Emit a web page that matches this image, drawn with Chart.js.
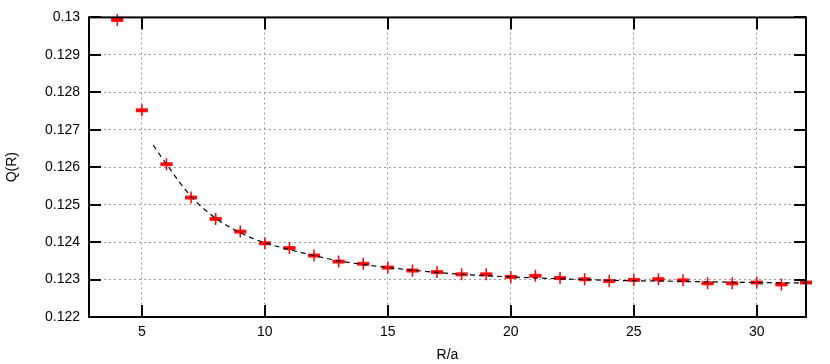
<!DOCTYPE html>
<html>
<head>
<meta charset="utf-8">
<script src="https://cdn.jsdelivr.net/npm/chart.js@4.4.1/dist/chart.umd.min.js"></script>
<style>
  html, body { margin: 0; padding: 0; background: #fff; }
  #c { display: block; }
</style>
</head>
<body>
<canvas id="c" width="830" height="364"></canvas>
<script>
// measured points Q(R) vs R/a
const rVals = [4, 5, 6, 7, 8, 9, 10, 11, 12, 13, 14, 15, 16, 17, 18, 19, 20, 21, 22, 23, 24, 25, 26, 27, 28, 29, 30, 31, 32];
const qVals = [0.12993, 0.12752, 0.12608, 0.12519, 0.12462, 0.12428, 0.12397, 0.12384, 0.12364, 0.12348,
               0.12342, 0.12332, 0.12324, 0.12320, 0.12314, 0.12314, 0.12307, 0.12310, 0.12304, 0.12301,
               0.12296, 0.12299, 0.12301, 0.12298, 0.12290, 0.12290, 0.12292, 0.12287, 0.12292];

// fitted curve
const fitR = [5.46, 6, 7, 8, 9, 10, 11, 12, 13, 14, 15, 16, 17, 18, 20, 22, 24, 26, 28, 30, 32];
const fitQ = [0.12659, 0.12608, 0.12522, 0.12464, 0.12425, 0.12398, 0.12380, 0.12364, 0.12350, 0.12340,
              0.12332, 0.12325, 0.12319, 0.12314, 0.12307, 0.12302, 0.12298, 0.12296, 0.12294, 0.12292, 0.12291];

const xTicks = [5, 10, 15, 20, 25, 30];
const yTicks = [0.122, 0.123, 0.124, 0.125, 0.126, 0.127, 0.128, 0.129, 0.13];

const xMin = 2.85, xMax = 32;
const yMin = 0.122, yMax = 0.13;

const font = { family: "'Liberation Sans', Arial, sans-serif", size: 14 };

function pts(xs, ys) {
    return xs.map((x, i) => ({ x: x, y: ys[i] }));
}

// gnuplot style frame with inward ticks on all four sides
const framePlugin = {
    id: 'frame',
    afterDatasetsDraw(chart) {
        const ctx = chart.ctx;
        const a = chart.chartArea;
        const xs = chart.scales.x, ys = chart.scales.y;
        const len = 12;
        ctx.save();
        ctx.strokeStyle = '#000';
        ctx.lineWidth = 2;
        ctx.beginPath();
        xTicks.forEach(v => {
            const px = Math.round(xs.getPixelForValue(v));
            ctx.moveTo(px, a.bottom); ctx.lineTo(px, a.bottom - len);
            ctx.moveTo(px, a.top); ctx.lineTo(px, a.top + len);
        });
        yTicks.forEach(v => {
            const py = Math.round(ys.getPixelForValue(v));
            ctx.moveTo(a.left, py); ctx.lineTo(a.left + len, py);
            ctx.moveTo(a.right, py); ctx.lineTo(a.right - len, py);
        });
        ctx.stroke();
        ctx.strokeRect(a.left, a.top, a.right - a.left, a.bottom - a.top);
        ctx.restore();
    }
};

new Chart(document.getElementById('c'), {
    type: 'scatter',
    data: {
        datasets: [
            {
                label: 'fit',
                type: 'line',
                data: pts(fitR, fitQ),
                borderColor: '#000',
                borderWidth: 1.2,
                borderDash: [5, 4],
                pointRadius: 0,
                cubicInterpolationMode: 'monotone',
                fill: false
            },
            {
                label: 'data-v',
                data: pts(rVals, qVals),
                pointStyle: 'cross',
                pointRadius: 6,
                borderColor: '#ff0000',
                backgroundColor: '#ff0000',
                borderWidth: 1.5,
                clip: false
            },
            {
                label: 'data-h',
                data: pts(rVals, qVals),
                pointStyle: 'line',
                pointRadius: 6,
                borderColor: 'rgba(255,0,0,0.9)',
                backgroundColor: '#ff0000',
                borderWidth: 4,
                clip: false
            }
        ]
    },
    options: {
        responsive: false,
        animation: false,
        events: [],
        layout: { padding: { top: 16, right: 24, left: 0, bottom: 0 } },
        plugins: { legend: { display: false }, tooltip: { enabled: false } },
        scales: {
            x: {
                type: 'linear',
                min: xMin, max: xMax,
                afterBuildTicks(scale) { scale.ticks = xTicks.map(v => ({ value: v })); },
                afterFit(scale) { scale.height = 47; },
                border: { display: false, dash: [2, 3] },
                grid: { color: '#999999', lineWidth: 1, drawTicks: false },
                ticks: { color: '#000', font: font, padding: 7, maxRotation: 0 },
                title: { display: true, text: 'R/a', color: '#000', font: font, padding: { top: 2, bottom: 0 } }
            },
            y: {
                type: 'linear',
                min: yMin, max: yMax,
                afterBuildTicks(scale) { scale.ticks = yTicks.map(v => ({ value: v })); },
                afterFit(scale) { scale.width = 89; },
                border: { display: false, dash: [2, 3] },
                grid: { color: '#999999', lineWidth: 1, drawTicks: false },
                ticks: {
                    color: '#000', font: font, padding: 9,
                    callback: v => String(+v.toFixed(3))
                },
                title: { display: true, text: 'Q(R)', color: '#000', font: font, padding: { top: 4, bottom: 0 } }
            }
        }
    },
    plugins: [framePlugin]
});
</script>
</body>
</html>
